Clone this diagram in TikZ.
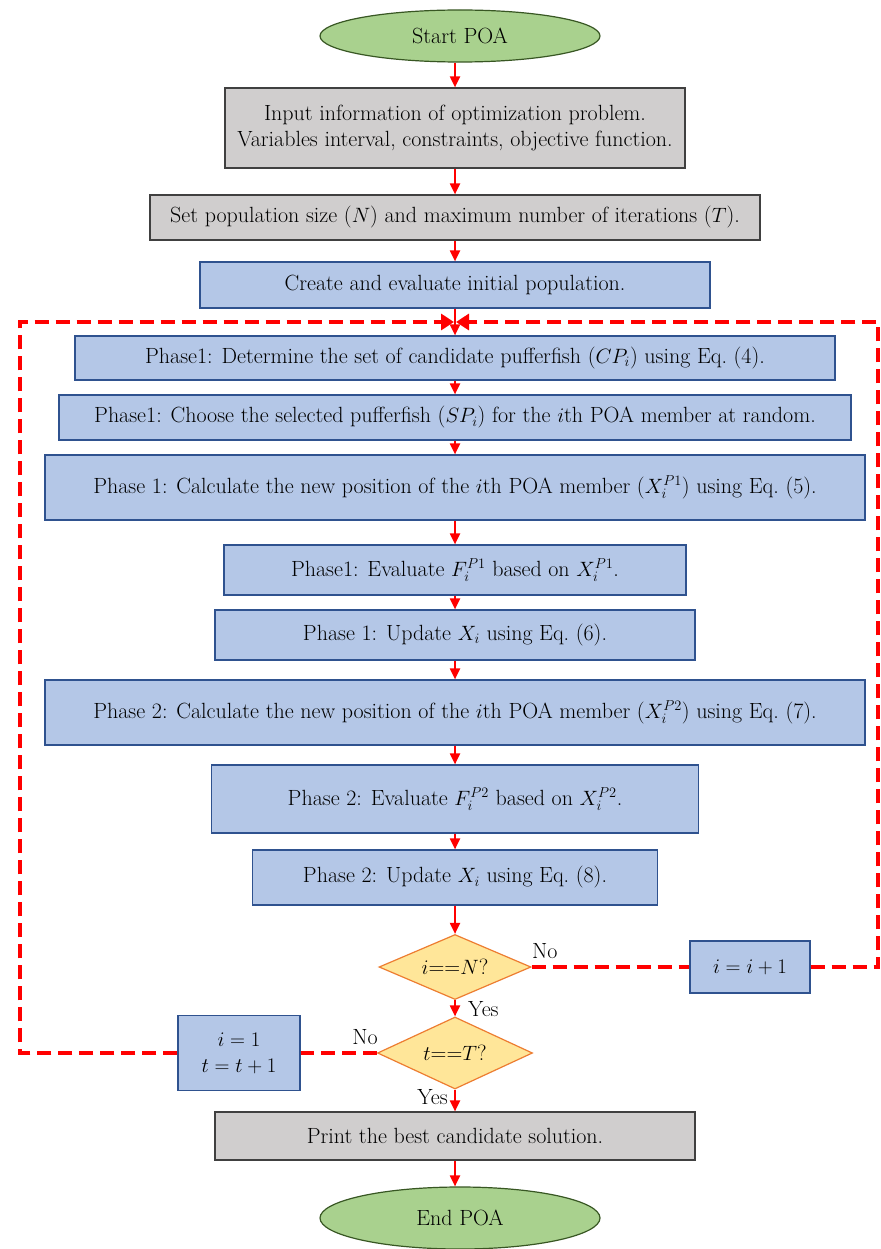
\documentclass[tikz,border=0pt]{standalone}
\usepackage{amsmath}
\usetikzlibrary{shapes.geometric,arrows.meta}
\definecolor{bluefill}{RGB}{180,199,231}
\definecolor{blueline}{RGB}{47,82,143}
\definecolor{grayfill}{RGB}{208,206,206}
\definecolor{grayline}{RGB}{64,64,64}
\definecolor{greenfill}{RGB}{169,209,142}
\definecolor{greenline}{RGB}{56,87,35}
\definecolor{yelfill}{RGB}{255,230,153}
\definecolor{yelline}{RGB}{237,125,49}
\definecolor{arrred}{RGB}{255,0,0}
\begin{document}
\begin{tikzpicture}[x=1pt,y=-1pt,
  every node/.style={font=\fontsize{22}{26}\selectfont, inner sep=2pt, align=center},
  bluebox/.style={draw=blueline, fill=bluefill, line width=1.2pt, rectangle},
  graybox/.style={draw=grayline, fill=grayfill, line width=1.2pt, rectangle},
  term/.style={draw=greenline, fill=greenfill, line width=1.2pt, ellipse, inner sep=0pt},
  decide/.style={draw=yelline, fill=yelfill, line width=1.2pt, diamond, inner sep=0pt},
  flow/.style={draw=arrred, line width=2pt, -{Triangle[length=11pt,width=10pt]}},
  loop/.style={draw=arrred, line width=4pt, dash pattern=on 14pt off 7pt},
  looparr/.style={draw=arrred, line width=4pt, dash pattern=on 14pt off 7pt, -{Triangle[length=13pt,width=16pt]}},
  lbl/.style={inner sep=0pt}
]
\useasboundingbox (0,0) rectangle (880,1249);
\fill[white] (0,0) rectangle (880,1249);

\node[term, minimum width=280pt, minimum height=52pt] (start) at (460,36) {Start POA};
\node[graybox, minimum width=460pt, minimum height=80pt] (b1) at (455,128) {Input information of optimization problem.\\ Variables interval, constraints, objective function.};
\node[graybox, minimum width=610pt, minimum height=45pt] (b2) at (455,217.5) {Set population size ($N$) and maximum number of iterations ($T$).};
\node[bluebox, minimum width=510pt, minimum height=46pt] (b3) at (455,285) {Create and evaluate initial population.};
\node[bluebox, minimum width=760pt, minimum height=44pt] (p1a) at (455,358) {Phase1: Determine the set of candidate pufferfish ($CP_i$) using Eq.~(4).};
\node[bluebox, minimum width=792pt, minimum height=45pt] (p1b) at (455,417.5) {Phase1: Choose the selected pufferfish ($SP_i$) for the $i$th POA member at random.};
\node[bluebox, minimum width=820pt, minimum height=65pt] (p1c) at (455,487.5) {Phase 1: Calculate the new position of the $i$th POA member ($X_i^{P1}$) using Eq.~(5).};
\node[bluebox, minimum width=462pt, minimum height=50pt] (p1d) at (455,570) {Phase1: Evaluate $F_i^{P1}$ based on $X_i^{P1}$.};
\node[bluebox, minimum width=480pt, minimum height=50pt] (p1e) at (455,635) {Phase 1: Update $X_i$ using Eq.~(6).};
\node[bluebox, minimum width=820pt, minimum height=65pt] (p2a) at (455,712.5) {Phase 2: Calculate the new position of the $i$th POA member ($X_i^{P2}$) using Eq.~(7).};
\node[bluebox, minimum width=487pt, minimum height=68pt] (p2b) at (455,799) {Phase 2: Evaluate $F_i^{P2}$ based on $X_i^{P2}$.};
\node[bluebox, minimum width=405pt, minimum height=55pt] (p2c) at (455,877.5) {Phase 2: Update $X_i$ using Eq.~(8).};
\node[decide, minimum width=152pt, minimum height=65pt, aspect=2.3] (d1) at (455,967) {$i$==$N$?};
\node[bluebox, minimum width=120pt, minimum height=52pt] (inc) at (750,967) {$i=i+1$};
\node[decide, minimum width=155pt, minimum height=72pt, aspect=2.1] (d2) at (455,1053) {$t$==$T$?};
\node[bluebox, minimum width=122pt, minimum height=75pt] (reset) at (239,1053) {$i=1$\\ $t=t+1$};
\node[graybox, minimum width=480pt, minimum height=48pt] (print) at (455,1136) {Print the best candidate solution.};
\node[term, minimum width=280pt, minimum height=62pt] (end) at (460,1218) {End POA};

\coordinate (join) at (455,322);
\coordinate (rt) at (878,967);
\coordinate (rtop) at (878,322);
\coordinate (lb) at (20,1053);
\coordinate (ltop) at (20,322);

\draw[flow] (start.south -| b1.north) -- (b1.north);
\draw[flow] (b1) -- (b2);
\draw[flow] (b2) -- (b3);
\draw[flow] (b3) -- (p1a);
\draw[flow] (p1a) -- (p1b);
\draw[flow] (p1b) -- (p1c);
\draw[flow] (p1c) -- (p1d);
\draw[flow] (p1d) -- (p1e);
\draw[flow] (p1e) -- (p2a);
\draw[flow] (p2a) -- (p2b);
\draw[flow] (p2b) -- (p2c);
\draw[flow] (p2c) -- (d1);
\draw[flow] (d1) -- (d2);
\draw[flow] (d2) -- (print);
\draw[flow] (print.south) -- (print.south |- end.north);

\draw[loop] (d1.east) -- (inc.west);
\draw[looparr] (inc.east) -- (rt) -- (rtop) -- ([xshift=1pt]join);
\draw[loop] (d2.west) -- (reset.east);
\draw[looparr] (reset.west) -- (lb) -- (ltop) -- ([xshift=-1pt]join);

\node[lbl, anchor=south west] (no1) at (532,959) {No};
\node[lbl, anchor=west] (yes1) at (468,1009) {Yes};
\node[lbl, anchor=south east] (no2) at (378,1045) {No};
\node[lbl, anchor=east] (yes2) at (448,1097) {Yes};
\end{tikzpicture}
\end{document}
